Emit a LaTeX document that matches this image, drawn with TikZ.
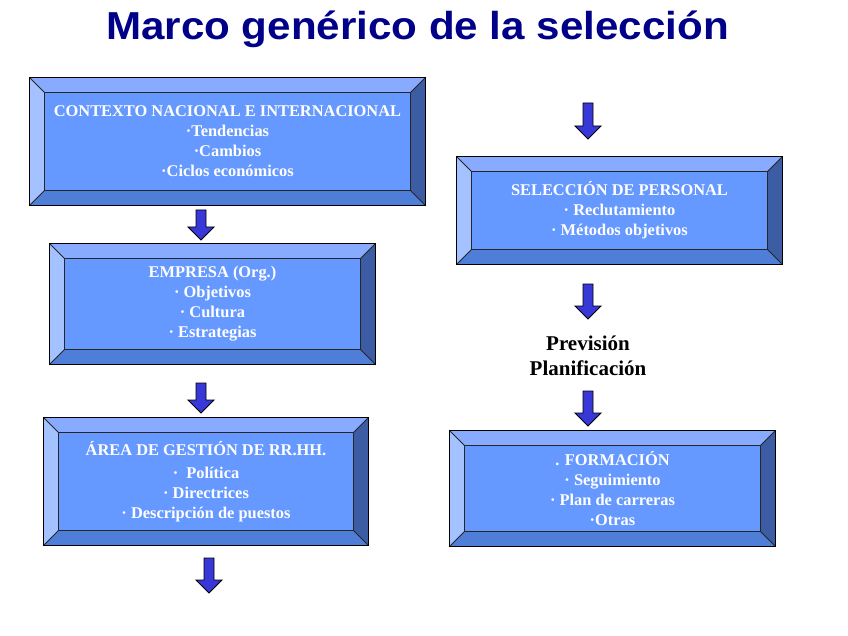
\documentclass[tikz,border=0pt]{standalone}
\usepackage{fontspec}
\setmainfont{Liberation Serif}
\newfontfamily\titlefont[FakeStretch=1.08]{Liberation Sans}
\usetikzlibrary{calc}
\definecolor{face}{HTML}{6699FF}
\definecolor{bevtop}{HTML}{88AAFF}
\definecolor{bevleft}{HTML}{A3C2FF}
\definecolor{bevbot}{HTML}{4F7ED8}
\definecolor{bevright}{HTML}{3C5CA3}
\definecolor{arrblue}{HTML}{3838D8}
\definecolor{navy}{HTML}{000088}
\tikzset{
  bbox/.style={draw=black, line width=1.4pt, fill=face, inner sep=0pt, align=center,
    text=white, font=\bfseries\fontsize{16.4}{20}\selectfont},
  bevline/.style={draw=black!85, line width=0.9pt},
  blockarr/.style={fill=arrblue, draw=black, line width=0.9pt, line join=miter},
  plain/.style={align=center, text=black, font=\bfseries\fontsize{21}{25}\selectfont},
}
\newcommand\bevel[1]{%
  \coordinate (#1-a) at ($(#1.north west)+(15pt,-15pt)$);
  \coordinate (#1-b) at ($(#1.north east)+(-15pt,-15pt)$);
  \coordinate (#1-c) at ($(#1.south east)+(-15pt,15pt)$);
  \coordinate (#1-d) at ($(#1.south west)+(15pt,15pt)$);
  \fill[bevtop] (#1.north west) -- (#1.north east) -- (#1-b) -- (#1-a) -- cycle;
  \fill[bevleft] (#1.north west) -- (#1-a) -- (#1-d) -- (#1.south west) -- cycle;
  \fill[bevbot] (#1.south west) -- (#1-d) -- (#1-c) -- (#1.south east) -- cycle;
  \fill[bevright] (#1.north east) -- (#1.south east) -- (#1-c) -- (#1-b) -- cycle;
  \draw[bevline] (#1-a) rectangle (#1-c);
  \draw[bevline] (#1.north west) -- (#1-a) (#1.north east) -- (#1-b)
                 (#1.south east) -- (#1-c) (#1.south west) -- (#1-d);
  \draw[black, line width=1.4pt] (#1.north west) rectangle (#1.south east);
}
\newcommand\darr[3]{%
  \filldraw[blockarr] (#1-5,#2) -- (#1+5,#2) -- (#1+5,#3-13) -- (#1+13,#3-13)
    -- (#1,#3) -- (#1-13,#3-13) -- (#1-5,#3-13) -- cycle;}
\newcommand\bu{\textperiodcentered}
\begin{document}
\begin{tikzpicture}[x=1pt, y=-1pt]
\useasboundingbox (0,0) rectangle (848,636);
\fill[white] (0,0) rectangle (848,636);
% title
\node (title) [anchor=base, text=navy, font=\titlefont\bfseries\fontsize{39}{44}\selectfont] at (417.5,40) {Marco genérico de la selección};
% boxes
\node (ctx) [bbox, minimum width=395pt, minimum height=127pt] at (227.5,141.5)
  {CONTEXTO NACIONAL E INTERNACIONAL\\ \bu Tendencias\\ \bu Cambios\\ \bu Ciclos económicos};
\bevel{ctx}
\node (emp) [bbox, minimum width=325pt, minimum height=120pt] at (212.5,304)
  {EMPRESA (Org.)\\ \bu\ Objetivos\\ \bu\ Cultura\\ \bu\ Estrategias};
\bevel{emp}
\node (area) [bbox, minimum width=324pt, minimum height=127pt] at (206,481.5)
  {ÁREA DE GESTIÓN DE RR.HH.\\[3pt] \bu\ \ Política\\ \bu\ Directrices\\ \bu\ Descripción de puestos};
\bevel{area}
\node (sel) [bbox, minimum width=325pt, minimum height=107pt] at (619.5,210.5)
  {SELECCIÓN DE PERSONAL\\ \bu\ Reclutamiento\\ \bu\ Métodos objetivos};
\bevel{sel}
\node (form) [bbox, minimum width=325pt, minimum height=115pt] at (612.5,488.5)
  {. FORMACIÓN\\ \bu\ Seguimiento\\ \bu\ Plan de carreras\\ \bu Otras};
\bevel{form}
% middle text
\node (prev) [plain] at (588,356) {Previsión\\Planificación};
% arrows
\darr{201}{210}{240}
\darr{201}{383}{413}
\darr{209}{558}{593}
\darr{588}{103}{139}
\darr{588}{284}{319}
\darr{588}{391}{426}
\end{tikzpicture}
\end{document}
